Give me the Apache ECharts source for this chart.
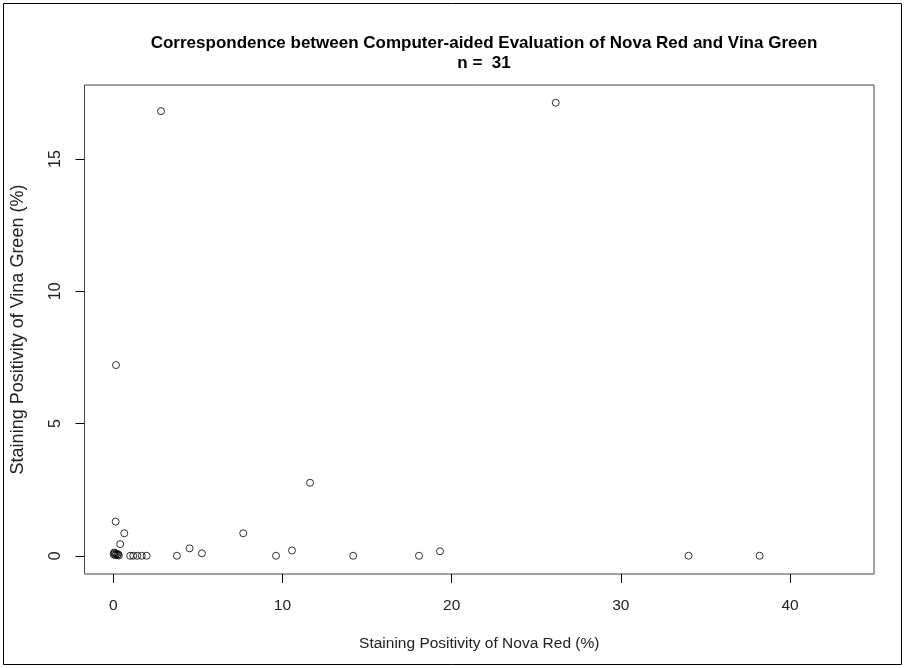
<!DOCTYPE html>
<html>
<head>
<meta charset="utf-8">
<script src="https://cdn.jsdelivr.net/npm/echarts@6/dist/echarts.min.js"></script>
<style>html,body{margin:0;padding:0;background:#fff}#c{width:905px;height:668px}</style>
</head>
<body>
<div id="c"></div>
<script>
// Data
var novaRed = [26.15, 2.82, 0.16, 0.14, 0.65, 0.41, 7.68, 11.63, 4.51, 5.24, 10.56, 19.31,
  1.00, 1.18, 1.42, 1.68, 1.97, 3.76, 9.62, 14.18, 18.07, 34.0, 38.2,
  0.02, 0.08, 0.12, 0.18, 0.24, 0.29, 0.33, 0.05];
var vinaGreen = [17.13, 16.81, 7.21, 1.29, 0.85, 0.44, 0.85, 2.76, 0.28, 0.09, 0.20, 0.17,
  0, 0, 0, 0, 0, 0, 0, 0, 0, 0, 0,
  0.05, 0.10, 0.02, 0.08, 0.03, 0.06, 0.01, 0.12];
var xTicks = [0, 10, 20, 30, 40];
var yTicks = [0, 5, 10, 15];
var titleText = 'Correspondence between Computer-aided Evaluation of Nova Red and Vina Green';
var subtitleText = 'n =  31';
var xName = 'Staining Positivity of Nova Red (%)';
var yName = 'Staining Positivity of Vina Green (%)';

var pts = novaRed.map(function (x, i) { return [x, vinaGreen[i]]; });
var font = 'Liberation Sans, Arial, sans-serif';
var chart = echarts.init(document.getElementById('c'), null, {renderer: 'canvas'});
chart.setOption({
  animation: false,
  backgroundColor: '#fff',
  title: {
    text: titleText + '\n' + subtitleText,
    left: 479, top: 28, textAlign: 'center',
    textStyle: {fontFamily: font, fontSize: 17, fontWeight: 'bold', color: '#000', lineHeight: 20}
  },
  grid: {left: 84.5, right: 905 - 874, top: 85, bottom: 668 - 574, show: true,
    outerBoundsMode: 'none', containLabel: false,
    borderColor: '#444', borderWidth: 1, backgroundColor: 'transparent'},
  xAxis: {
    type: 'value', min: -1.70, max: 44.96,
    axisLine: {show: false, onZero: false},
    splitLine: {show: false},
    axisTick: {show: true, length: 9, customValues: xTicks, lineStyle: {color: '#000'}},
    axisLabel: {customValues: xTicks, margin: 24, fontFamily: font, fontSize: 15.5, color: '#222'},
    name: xName, nameLocation: 'middle', nameGap: 62,
    nameTextStyle: {fontFamily: font, fontSize: 15.5, color: '#222'}
  },
  yAxis: {
    type: 'value', min: -0.69, max: 17.80,
    axisLine: {show: false, onZero: false},
    splitLine: {show: false},
    axisTick: {show: true, length: 9, customValues: yTicks, lineStyle: {color: '#000'}},
    axisLabel: {customValues: yTicks, rotate: 90, margin: 20.5, fontFamily: font, fontSize: 16, color: '#222'},
    name: yName, nameLocation: 'middle', nameGap: 57,
    nameTextStyle: {fontFamily: font, fontSize: 18, color: '#222'}
  },
  graphic: [{
    type: 'rect', shape: {x: 3.5, y: 3.5, width: 898, height: 661},
    style: {fill: 'none', stroke: '#000', lineWidth: 1}, silent: true
  }],
  series: [{
    type: 'scatter', data: pts, symbol: 'circle', symbolSize: 7,
    itemStyle: {color: 'transparent', borderColor: '#000', borderWidth: 1}
  }]
});
</script>
</body>
</html>
